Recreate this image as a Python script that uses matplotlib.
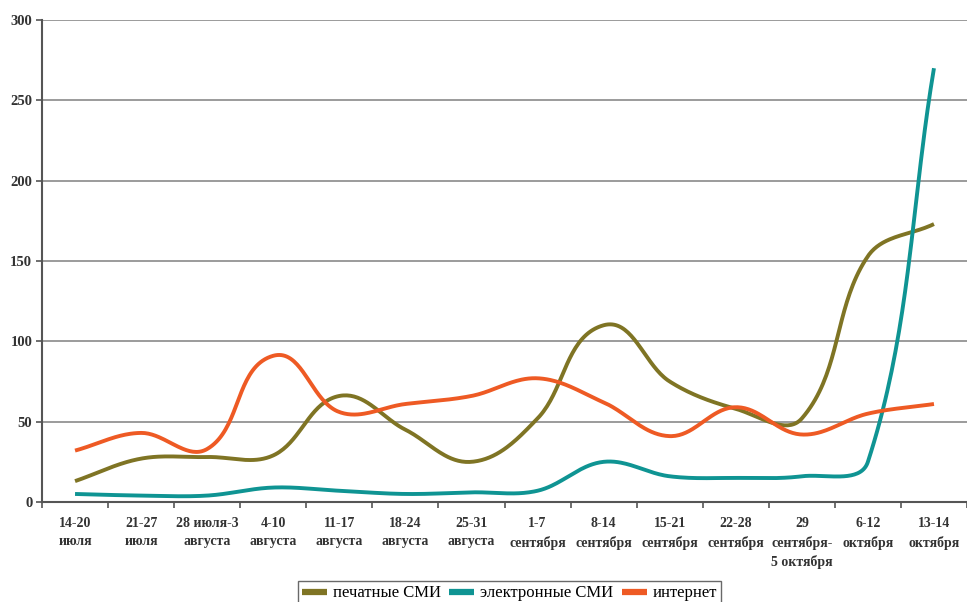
import numpy as np
import matplotlib
matplotlib.use("Agg")
import matplotlib.pyplot as plt

categories = ["14-20\nиюля", "21-27\nиюля", "28 июля-3\nавгуста", "4-10\nавгуста",
              "11-17\nавгуста", "18-24\nавгуста", "25-31\nавгуста", "1-7\nсентября",
              "8-14\nсентября", "15-21\nсентября", "22-28\nсентября",
              "29\nсентября-\n5 октября", "6-12\nоктября", "13-14\nоктября"]
print_media = [13, 27, 28, 29, 66, 45, 25, 52, 110, 75, 58, 52, 153, 173]
electronic_media = [5, 4, 4, 9, 7, 5, 6, 7, 25, 16, 15, 16, 25, 270]
internet = [32, 43, 33, 91, 56, 61, 66, 77, 62, 41, 59, 42, 55, 61]
series_names = ["печатные СМИ", "электронные СМИ", "интернет"]
colors = ["#7f7424", "#0f9493", "#ee5a24"]
yticks = [0, 50, 100, 150, 200, 250, 300]

XS, YS = 66.0, 1.607  # approximate pixel scale, used only for the smoothing shape
ARM = 0.35


def smooth(x, y, n=40):
    # Bezier smoothing through the data points with chord-length control arms
    P = np.column_stack([np.asarray(x, float) * XS, np.asarray(y, float) * YS])
    m = len(P)
    T = np.zeros_like(P)
    for i in range(m):
        a = P[max(i - 1, 0)]
        b = P[min(i + 1, m - 1)]
        d = b - a
        T[i] = d / np.linalg.norm(d)
    xs, ys = [], []
    for i in range(m - 1):
        p1, p2 = P[i], P[i + 1]
        L = np.linalg.norm(p2 - p1) * ARM
        c1 = p1 + T[i] * L
        c2 = p2 - T[i + 1] * L
        t = np.linspace(0, 1, n)[:, None]
        bz = ((1 - t) ** 3) * p1 + 3 * ((1 - t) ** 2) * t * c1 + 3 * (1 - t) * t ** 2 * c2 + t ** 3 * p2
        xs.append(bz[:, 0] / XS)
        ys.append(bz[:, 1] / YS)
    return np.concatenate(xs), np.concatenate(ys)


plt.rcParams['font.family'] = ['Liberation Serif', 'DejaVu Serif']
fig = plt.figure(figsize=(9.67, 6.02), dpi=100)
ax = fig.add_axes([42 / 967, 100 / 602, 925 / 967, 482 / 602])

x = np.arange(len(categories))
for vals, name, c in zip([print_media, electronic_media, internet], series_names, colors):
    sx, sy = smooth(x, vals)
    ax.plot(sx, sy, color=c, lw=2.8, label=name, solid_capstyle='butt', zorder=3)

ax.set_xlim(-0.5, len(categories) - 0.5)
ax.set_ylim(0, 300)
ax.set_yticks(yticks)
ax.set_yticklabels([str(v) for v in yticks], fontsize=10.5, fontweight='bold', color='#333333')
ax.yaxis.grid(True, color='#8a8a8a', lw=1.2)
ax.set_axisbelow(True)

ax.set_xticks(x)
ax.set_xticklabels(categories, fontsize=10, fontweight='bold', color='#333333', linespacing=1.5)
ax.tick_params(axis='x', which='major', length=0, pad=11)
ax.set_xticks(np.arange(-0.5, len(categories), 1), minor=True)
ax.tick_params(axis='x', which='minor', length=4, width=1.2, color='#555555', direction='out')
ax.tick_params(axis='y', length=4, width=1.2, color='#555555', direction='out', pad=3)

for s in ['top', 'right']:
    ax.spines[s].set_visible(False)
for s in ['left', 'bottom']:
    ax.spines[s].set_color('#555555')
    ax.spines[s].set_linewidth(1.5)

leg = fig.legend(loc='lower center', bbox_to_anchor=(0.527, -0.006), ncol=3, frameon=True,
                 fancybox=False, edgecolor='#444444', fontsize=12, handlelength=1.5,
                 handletextpad=0.35, columnspacing=0.5, borderpad=0.25, borderaxespad=0.0)
leg.get_frame().set_linewidth(1.0)
for h in leg.get_lines():
    h.set_linewidth(4.5)

fig.savefig("out.png", dpi=100)
